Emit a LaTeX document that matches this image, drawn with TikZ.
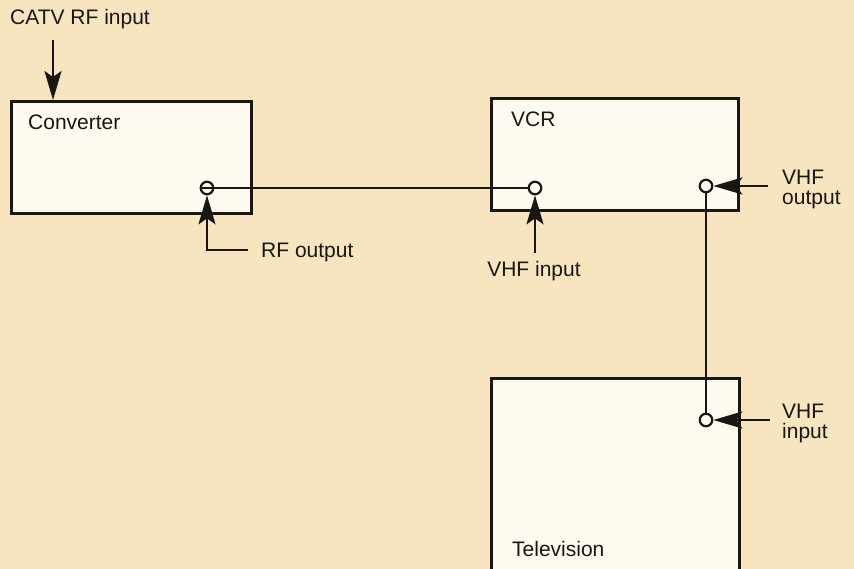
\documentclass[tikz,border=0pt]{standalone}
\usepackage{fontspec}
\setmainfont{Liberation Sans}
\usetikzlibrary{arrows.meta}
\definecolor{bg}{RGB}{246,229,190}
\definecolor{boxfill}{RGB}{253,250,240}
\definecolor{ink}{RGB}{25,22,20}
\begin{document}
\begin{tikzpicture}[x=1pt,y=-1pt,
  box/.style={draw=ink, line width=3pt, fill=boxfill, anchor=north west, inner sep=0pt},
  port/.style={circle, draw=ink, line width=2.2pt, fill=boxfill, minimum size=12.5pt, inner sep=0pt},
  wire/.style={draw=ink, line width=2.2pt},
  feed/.style={draw=ink, line width=2.4pt, -{Stealth[length=29pt,width=17pt,inset=6pt]}},
  lbl/.style={text=ink, font=\fontsize{21}{20}\selectfont, inner sep=0pt, align=left, anchor=base west}]
\fill[bg] (0,0) rectangle (854,569);
\useasboundingbox (0,0) rectangle (854,569);
\clip (0,0) rectangle (854,569);

% boxes
\node[box, minimum width=240pt, minimum height=112pt] (conv) at (10,100) {};
\node[box, minimum width=247pt, minimum height=112pt] (vcr) at (490,97) {};
\node[box, minimum width=248pt, minimum height=220pt] (tv) at (490,377) {};

% box titles
\node[lbl] (convt) at (28,130) {Converter};
\node[lbl] (vcrt) at (511,127) {VCR};
\node[lbl] (tvt) at (512,556) {Television};

% ports
\node[port] (convport) at (207,188) {};
\node[port] (vcrin) at (535,188) {};
\node[port] (vcrout) at (706,186) {};
\node[port] (tvin) at (706,420) {};

% wires
\draw[wire] (convport.west) -- (vcrin);
\draw[wire] (vcrout) -- (tvin);

% free ends of the feed arrows
\coordinate (catvtop) at (53,40);
\coordinate (rfend) at (248,250);
\coordinate (vhfinend) at (535,253);
\coordinate (vhfoutend) at (768,186);
\coordinate (tvinend) at (770,420);

\draw[feed] (catvtop) -- (catvtop |- conv.north);
\draw[feed] (rfend) -| (convport);
\draw[feed] (vhfinend) -- (vcrin);
\draw[feed] (vhfoutend) -- (vcrout);
\draw[feed] (tvinend) -- (tvin);

% labels
\node[lbl] (catvl) at (10,25) {CATV RF input};
\node[lbl] (rfl) at (261,258) {RF output};
\node[lbl, anchor=base] (vhfinl) at (534,277) {VHF input};
\node[lbl] (vhfoutl) at (782,205) {VHF\\output};
\node[lbl] (tvinl) at (782,438) {VHF\\input};
\end{tikzpicture}
\end{document}
